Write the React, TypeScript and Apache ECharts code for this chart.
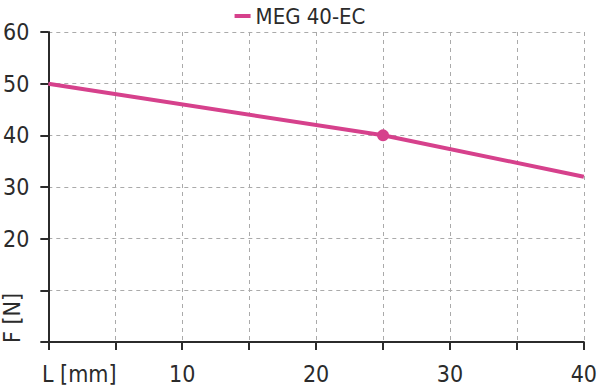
import React, { useEffect, useRef } from "react";
import * as echarts from "echarts";

const seriesName = "MEG 40-EC";
const lengthMm = [0, 25, 40];
const forceN = [50, 40, 32];
const markedIndex = 1;
const xLabelValues = [10, 20, 30, 40];
const yLabelValues = [20, 30, 40, 50, 60];
const xTitle = "L [mm]";
const yTitle = "F [N]";

const FONT = "'DejaVu Sans Condensed', 'DejaVu Sans', sans-serif";
const PINK = "#d6418c";
const INK = "#2b2b2b";
const FS = 23;

export default function App() {
  const ref = useRef<HTMLDivElement>(null);
  useEffect(() => {
    document.body.style.margin = "0";
    if (!ref.current) return;
    const chart = echarts.init(ref.current, undefined, { renderer: "svg" });
    const data = lengthMm.map((x, i) => ({
      value: [x, forceN[i]],
      symbolSize: i === markedIndex ? 12 : 0,
      symbol: i === markedIndex ? "circle" : "none",
    }));
    chart.setOption({
      animation: false,
      textStyle: { fontFamily: FONT },
      legend: {
        top: 0,
        left: "center",
        itemWidth: 16,
        itemHeight: 4,
        icon: "rect",
        itemGap: 8,
        textStyle: { fontFamily: FONT, fontSize: 22, color: INK },
        data: [seriesName],
      },
      grid: { left: 45, right: 13, top: 32, bottom: 46, containLabel: false },
      xAxis: {
        type: "value",
        min: 0,
        max: 40,
        interval: 5,
        axisLine: { show: true, lineStyle: { color: INK, width: 2 } },
        axisTick: { show: true, length: 8, lineStyle: { color: INK, width: 2 } },
        axisLabel: {
          margin: 20,
          fontSize: FS,
          color: INK,
          fontFamily: FONT,
          formatter: (v: number) => (xLabelValues.includes(v) ? String(v) : ""),
        },
        splitLine: { show: true, lineStyle: { color: "#aaaaaa", type: [4, 4], width: 1 } },
      },
      yAxis: {
        type: "value",
        min: 0,
        max: 60,
        interval: 10,
        axisLine: { show: true, lineStyle: { color: INK, width: 2 } },
        axisTick: { show: true, length: 8, lineStyle: { color: INK, width: 2 } },
        axisLabel: {
          margin: 19,
          fontSize: FS,
          color: INK,
          fontFamily: FONT,
          formatter: (v: number) => (yLabelValues.includes(v) ? String(v) : ""),
        },
        splitLine: { show: true, lineStyle: { color: "#aaaaaa", type: [4, 4], width: 1 } },
      },
      series: [
        {
          name: seriesName,
          type: "line",
          data,
          lineStyle: { color: PINK, width: 4 },
          itemStyle: { color: PINK },
          showSymbol: true,
        },
      ],
      graphic: [
        {
          type: "text",
          left: 42,
          top: 362,
          style: { text: xTitle, fontSize: FS, fill: INK, fontFamily: FONT },
        },
        {
          type: "text",
          x: 0,
          y: 343,
          rotation: Math.PI / 2,
          style: {
            text: yTitle,
            fontSize: FS,
            fill: INK,
            fontFamily: FONT,
            align: "left",
            verticalAlign: "top",
          },
        },
      ],
    });
    return () => chart.dispose();
  }, []);
  return <div ref={ref} style={{ width: 600, height: 388 }} />;
}
